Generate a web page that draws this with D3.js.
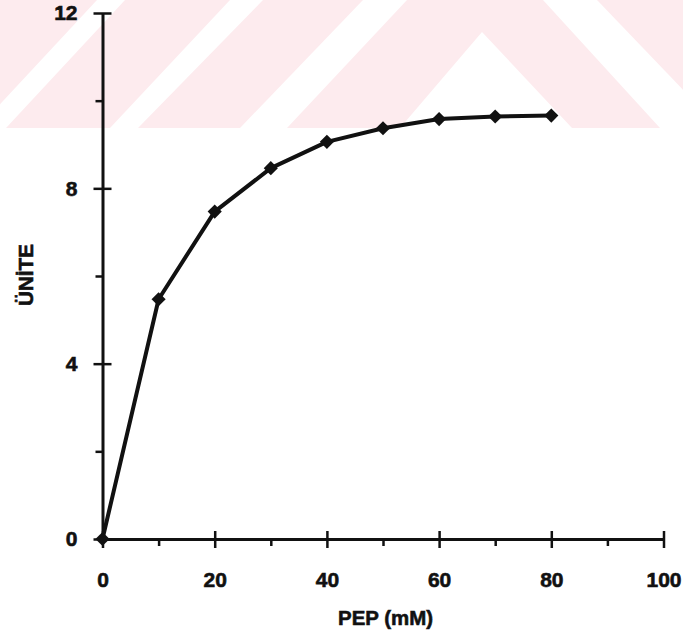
<!DOCTYPE html>
<html>
<head>
<meta charset="utf-8">
<script src="https://cdn.jsdelivr.net/npm/d3@7"></script>
<style>
  html, body { margin: 0; padding: 0; background: #ffffff; }
  svg { display: block; }
  text {
    font-family: "Liberation Sans Narrow", "Liberation Sans", Arial, sans-serif;
    font-weight: bold; fill: #111; stroke: #111; stroke-width: 0.6px;
  }
</style>
</head>
<body>
<svg id="chart" width="683" height="635"></svg>
<script>
// Enzyme activity versus PEP concentration
const pepMM = [0, 10, 20, 30, 40, 50, 60, 70, 80];
const units = [0, 5.47, 7.47, 8.46, 9.06, 9.37, 9.58, 9.64, 9.66];

const xMajorTicks = [0, 20, 40, 60, 80, 100];
const xMinorTicks = [10, 30, 50, 70, 90];
const yMajorTicks = [0, 4, 8, 12];
const yMinorTicks = [2, 6, 10];

const xTitle = "PEP (mM)";
const yTitle = "ÜNİTE";

const svg = d3.select("#chart");
const W = 683;

// Faint pink watermark band with white diagonal stripes across the top
const band = svg.append("g").attr("class", "watermark");
band.append("rect").attr("x", 0).attr("y", 0).attr("width", W).attr("height", 128)
  .attr("fill", "#fdebee");
const cutouts = [
  [[97, 0], [125, 0], [6, 128], [-22, 128]],
  [[230, 0], [263, 0], [138, 128], [110, 128]],
  [[363, 0], [407, 0], [287, 128], [240, 128]],
  [[482, 32], [572, 128], [400, 128]],
  [[543, 0], [597, 0], [690, 97], [690, 128], [660, 128]]
];
band.selectAll("polygon").data(cutouts).join("polygon")
  .attr("points", d => d.map(p => p.join(",")).join(" "))
  .attr("fill", "#ffffff");

// Scales
const x = d3.scaleLinear().domain([0, 100]).range([102.5, 663.5]);
const y = d3.scaleLinear().domain([0, 12]).range([539, 13]);

const axisColor = "#111";

// X axis: major ticks cross the line, minor ticks hang below
const gx = svg.append("g").attr("transform", `translate(0,${y(0)})`);
gx.call(d3.axisBottom(x).tickValues(xMajorTicks).tickSize(8).tickSizeOuter(0).tickPadding(25)
  .tickFormat(d3.format("d")));
gx.select(".domain").attr("stroke", axisColor).attr("stroke-width", 3);
gx.selectAll(".tick line").attr("y1", -8).attr("y2", 9).attr("stroke", axisColor).attr("stroke-width", 2.5);
gx.selectAll(".tick text").attr("font-size", 21).attr("font-family", null).attr("fill", "#111");

const gxm = svg.append("g").attr("transform", `translate(0,${y(0)})`);
gxm.call(d3.axisBottom(x).tickValues(xMinorTicks).tickSize(7).tickSizeOuter(0).tickFormat(""));
gxm.select(".domain").remove();
gxm.selectAll(".tick line").attr("stroke", axisColor).attr("stroke-width", 2.5);

// Y axis: major ticks cross the line, minor ticks point left
const gy = svg.append("g").attr("transform", `translate(${x(0)},0)`);
gy.call(d3.axisLeft(y).tickValues(yMajorTicks).tickSize(8).tickSizeOuter(0).tickPadding(17)
  .tickFormat(d3.format("d")));
gy.select(".domain").attr("stroke", axisColor).attr("stroke-width", 3);
gy.selectAll(".tick line").attr("x1", -9).attr("x2", 9).attr("stroke", axisColor).attr("stroke-width", 2.5);
gy.selectAll(".tick text").attr("font-size", 21).attr("font-family", null).attr("fill", "#111");

const gym = svg.append("g").attr("transform", `translate(${x(0)},0)`);
gym.call(d3.axisLeft(y).tickValues(yMinorTicks).tickSize(7).tickSizeOuter(0).tickFormat(""));
gym.select(".domain").remove();
gym.selectAll(".tick line").attr("stroke", axisColor).attr("stroke-width", 2.5);

// Axis titles
svg.append("text")
  .attr("x", 385.5).attr("y", 625)
  .attr("text-anchor", "middle")
  .attr("font-size", 21)
  .attr("textLength", 95)
  .attr("lengthAdjust", "spacingAndGlyphs")
  .text(xTitle);

svg.append("text")
  .attr("transform", "translate(33,275) rotate(-90)")
  .attr("text-anchor", "middle")
  .attr("font-size", 20)
  .attr("textLength", 62)
  .attr("lengthAdjust", "spacingAndGlyphs")
  .text(yTitle);

// Data series
const pts = pepMM.map((v, i) => [v, units[i]]);

svg.append("path")
  .datum(pts)
  .attr("fill", "none")
  .attr("stroke", "#111")
  .attr("stroke-width", 4)
  .attr("stroke-linejoin", "round")
  .attr("d", d3.line().x(d => x(d[0])).y(d => y(d[1])));

const diamond = d3.symbol().type(d3.symbolSquare).size(100);
svg.append("g").selectAll("path").data(pts).join("path")
  .attr("d", diamond)
  .attr("transform", d => `translate(${x(d[0])},${y(d[1])}) rotate(45)`)
  .attr("fill", "#111");
</script>
</body>
</html>
